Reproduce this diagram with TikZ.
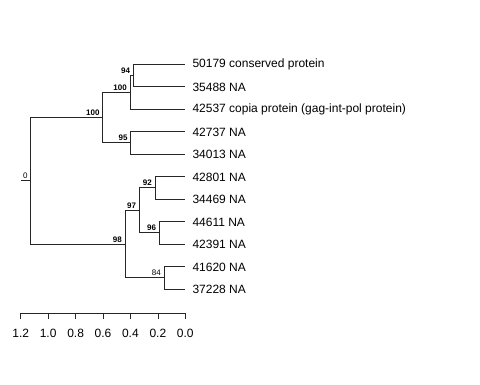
\documentclass[tikz,border=0pt]{standalone}
\usepackage{fontspec}
\setmainfont{Liberation Sans}
\begin{document}
\begin{tikzpicture}[x=1pt,y=-1pt,
  edge/.style={draw=black!85,line width=0.8pt},
  tiplab/.style={anchor=west,inner sep=0pt,font=\fontsize{12}{14}\selectfont,xshift=7pt,yshift=-0.5pt},
  boot/.style={anchor=south east,inner sep=0pt,font=\fontsize{8}{9}\selectfont\bfseries,xshift=-3pt,yshift=1.6pt},
  bootn/.style={anchor=south east,inner sep=0pt,font=\fontsize{8}{9}\selectfont,xshift=-3pt,yshift=1.6pt},
  ticklab/.style={anchor=center,inner sep=0pt,font=\fontsize{12}{14}\selectfont}]
\useasboundingbox (0,0) rectangle (480,384);
% tips
\coordinate (t1) at (185.3,64);
\coordinate (t2) at (185.3,86.5);
\coordinate (t3) at (185.3,109);
\coordinate (t4) at (185.3,131.5);
\coordinate (t5) at (185.3,154);
\coordinate (t6) at (185.3,176.5);
\coordinate (t7) at (185.3,199);
\coordinate (t8) at (185.3,221.5);
\coordinate (t9) at (185.3,244);
\coordinate (t10) at (185.3,266.5);
\coordinate (t11) at (185.3,289);
% internal nodes
\coordinate (n94) at (133.3,75.25);
\coordinate (n100b) at (130,92.1);
\coordinate (n95) at (130.7,142.75);
\coordinate (n100a) at (102.7,117.4);
\coordinate (n92) at (155,187.75);
\coordinate (n96) at (159.3,232.75);
\coordinate (n97) at (139.3,210.25);
\coordinate (n84) at (164,277.75);
\coordinate (n98) at (125,244);
\coordinate (root) at (30.7,180.7);
\coordinate (rootstub) at (20.7,180.7);
% edges
\draw[edge] (n94) |- (t1);
\draw[edge] (n94) |- (t2);
\draw[edge] (n100b) |- (n94);
\draw[edge] (n100b) |- (t3);
\draw[edge] (n95) |- (t4);
\draw[edge] (n95) |- (t5);
\draw[edge] (n100a) |- (n100b);
\draw[edge] (n100a) |- (n95);
\draw[edge] (n92) |- (t6);
\draw[edge] (n92) |- (t7);
\draw[edge] (n96) |- (t8);
\draw[edge] (n96) |- (t9);
\draw[edge] (n97) |- (n92);
\draw[edge] (n97) |- (n96);
\draw[edge] (n84) |- (t10);
\draw[edge] (n84) |- (t11);
\draw[edge] (n98) |- (n97);
\draw[edge] (n98) |- (n84);
\draw[edge] (root) |- (n100a);
\draw[edge] (root) |- (n98);
\draw[edge] (rootstub) -- (root);
% tip labels
\node[tiplab] (l1) at (t1) {50179 conserved protein};
\node[tiplab] (l2) at (t2) {35488 NA};
\node[tiplab] (l3) at (t3) {42537 copia protein (gag-int-pol protein)};
\node[tiplab] (l4) at (t4) {42737 NA};
\node[tiplab] (l5) at (t5) {34013 NA};
\node[tiplab] (l6) at (t6) {42801 NA};
\node[tiplab] (l7) at (t7) {34469 NA};
\node[tiplab] (l8) at (t8) {44611 NA};
\node[tiplab] (l9) at (t9) {42391 NA};
\node[tiplab] (l10) at (t10) {41620 NA};
\node[tiplab] (l11) at (t11) {37228 NA};
% bootstrap labels
\node[boot] (b94) at (n94) {94};
\node[boot] (b100b) at (n100b) {100};
\node[boot] (b95) at (n95) {95};
\node[boot] (b100a) at (n100a) {100};
\node[boot] (b92) at (n92) {92};
\node[boot] (b96) at (n96) {96};
\node[boot] (b97) at (n97) {97};
\node[bootn] (b84) at (n84) {84};
\node[boot] (b98) at (n98) {98};
\node[bootn] (b0) at (root) {0};
% axis
\coordinate (a0) at (20.7,313.3);
\coordinate (a1) at (48.1,313.3);
\coordinate (a2) at (75.6,313.3);
\coordinate (a3) at (103,313.3);
\coordinate (a4) at (130.4,313.3);
\coordinate (a5) at (157.9,313.3);
\coordinate (a6) at (185.3,313.3);
\draw[edge,line width=0.7pt] (a0) -- (a6);
\foreach \i/\v in {0/1.2,1/1.0,2/0.8,3/0.6,4/0.4,5/0.2,6/0.0}{
  \draw[edge,line width=0.7pt] (a\i) -- ++(0,5.5);
  \node[ticklab] (al\i) at ([yshift=-20pt]a\i) {\v};
}
\end{tikzpicture}
\end{document}
